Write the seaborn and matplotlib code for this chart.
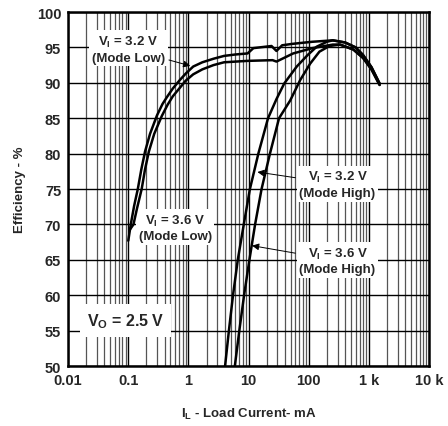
import numpy as np
import pandas as pd
import seaborn as sns
import matplotlib.pyplot as plt
from matplotlib.ticker import FixedLocator, NullFormatter

# load current (mA) and efficiency (%)
low_32_i = [0.1, 0.11, 0.125, 0.144, 0.165, 0.19, 0.23, 0.30, 0.37, 0.44, 0.55, 0.72, 0.9, 1.2, 1.7, 2.6, 3.9, 6, 9.6, 12, 24, 29, 36, 53, 115, 250, 400, 600, 800, 1100, 1500]
low_32_eff = [67.7, 70, 72.6, 75, 77.8, 80.3, 82.8, 85.4, 87, 88, 89.2, 90.4, 91.3, 92.3, 92.9, 93.4, 93.8, 94.0, 94.15, 94.9, 95.2, 94.5, 95.3, 95.5, 95.8, 96.0, 95.7, 95.0, 93.9, 92.2, 89.9]

low_36_i = [0.107, 0.122, 0.14, 0.167, 0.19, 0.22, 0.27, 0.36, 0.45, 0.55, 0.72, 0.9, 1.2, 1.7, 2.6, 3.9, 9.6, 25, 29, 55, 115, 250, 330, 550, 800, 1100, 1500]
low_36_eff = [69.3, 70, 72.3, 75, 77.8, 80.3, 82.8, 85.3, 86.9, 88.1, 89.3, 90.3, 91.2, 91.9, 92.5, 92.9, 93.1, 93.2, 93.0, 94.15, 94.9, 95.4, 95.4, 94.7, 93.5, 91.9, 89.7]

high_32_i = [4.06, 4.7, 5.5, 6.6, 8.3, 10.5, 14.5, 21, 29, 39, 63, 95, 135, 200, 250, 400, 600, 800, 1100, 1500]
high_32_eff = [50, 55, 60, 65, 70, 75, 80, 85, 87.7, 89.9, 92.3, 93.9, 95.1, 95.8, 96.0, 95.7, 95.0, 93.9, 92.2, 89.9]

high_36_i = [5.9, 7.0, 8.4, 10.3, 12.8, 16.4, 22.6, 32, 49, 72, 105, 150, 220, 330, 550, 800, 1100, 1500]
high_36_eff = [50, 55, 60, 65, 70, 75, 80, 85, 87.5, 90.4, 92.7, 94.4, 95.2, 95.4, 94.7, 93.5, 91.9, 89.7]

x_ticks = [0.01, 0.1, 1, 10, 100, 1000, 10000]
x_tick_labels = ['0.01', '0.1', '1', '10', '100', '1 k', '10 k']
y_ticks = list(range(50, 101, 5))

sns.set_style("white")
plt.rcParams['font.family'] = ['Liberation Sans', 'DejaVu Sans']
plt.rcParams['font.weight'] = 'bold'
plt.rcParams['mathtext.fontset'] = 'custom'
plt.rcParams['mathtext.rm'] = 'Liberation Sans:bold'
plt.rcParams['mathtext.bf'] = 'Liberation Sans:bold'

fig = plt.figure(figsize=(4.48, 4.27), dpi=100)
ax = fig.add_axes([0.152, 0.1405, 0.806, 0.829])

curves = [(low_32_i, low_32_eff), (low_36_i, low_36_eff),
          (high_32_i, high_32_eff), (high_36_i, high_36_eff)]
for xs, ys in curves:
    sns.lineplot(x=xs, y=ys, ax=ax, color='black', lw=1.8, estimator=None, sort=False, zorder=5)

ax.set_xscale('log')
ax.set_xlim(0.01, 10000)
ax.set_ylim(50, 100)

# grid: decades black, minors grey
minors = [m * 10.0 ** d for d in range(-2, 4) for m in range(2, 10)]
for xv in minors:
    ax.axvline(xv, color='#555555', lw=0.9, zorder=1)
for xv in x_ticks:
    ax.axvline(xv, color='black', lw=1.0, zorder=1)
for yv in y_ticks:
    ax.axhline(yv, color='black', lw=1.0, zorder=1)

ax.xaxis.set_major_locator(FixedLocator(x_ticks))
ax.set_xticklabels(x_tick_labels)
ax.xaxis.set_minor_formatter(NullFormatter())
ax.set_yticks(y_ticks)
ax.tick_params(axis='both', which='both', length=0, labelsize=10.5, pad=5)
for lab in ax.get_xticklabels() + ax.get_yticklabels():
    lab.set_fontweight('bold')

for s in ax.spines.values():
    s.set_linewidth(1.8)
    s.set_color('black')
    s.set_zorder(6)

ax.set_xlabel('I$_\\mathrm{L}$ - Load Current- mA', fontsize=9.5, fontweight='bold', labelpad=14)
ax.set_ylabel('Efficiency - %', fontsize=9.5, fontweight='bold', labelpad=8)

box = dict(facecolor='white', edgecolor='none', pad=2)
txt = dict(fontsize=9.5, fontweight='bold', ha='center', va='center', bbox=box, zorder=4, linespacing=1.25)
arrow = dict(arrowstyle='-|>', color='black', lw=0.7, mutation_scale=10)

ax.annotate('V$_\\mathrm{I}$ = 3.2 V\n(Mode Low)', xy=(1.07, 92.4), xytext=(0.1, 94.8),
            arrowprops=dict(arrow, shrinkA=1, shrinkB=0), **txt)
ax.annotate('V$_\\mathrm{I}$ = 3.6 V\n(Mode Low)', xy=(0.6, 69.6), **txt)
ax.annotate('V$_\\mathrm{I}$ = 3.2 V\n(Mode High)', xy=(14, 77.4), xytext=(300, 75.7),
            arrowprops=dict(arrow, shrinkA=1, shrinkB=0), **txt)
ax.annotate('V$_\\mathrm{I}$ = 3.6 V\n(Mode High)', xy=(11.4, 67.0), xytext=(300, 64.9),
            arrowprops=dict(arrow, shrinkA=1, shrinkB=0), **txt)
ax.text(0.09, 56.4, 'V$_\\mathrm{O}$ = 2.5 V', fontsize=11.5, fontweight='bold',
        ha='center', va='center', bbox=dict(facecolor='white', edgecolor='none', pad=5), zorder=4)

fig.savefig('out.png', dpi=100)
